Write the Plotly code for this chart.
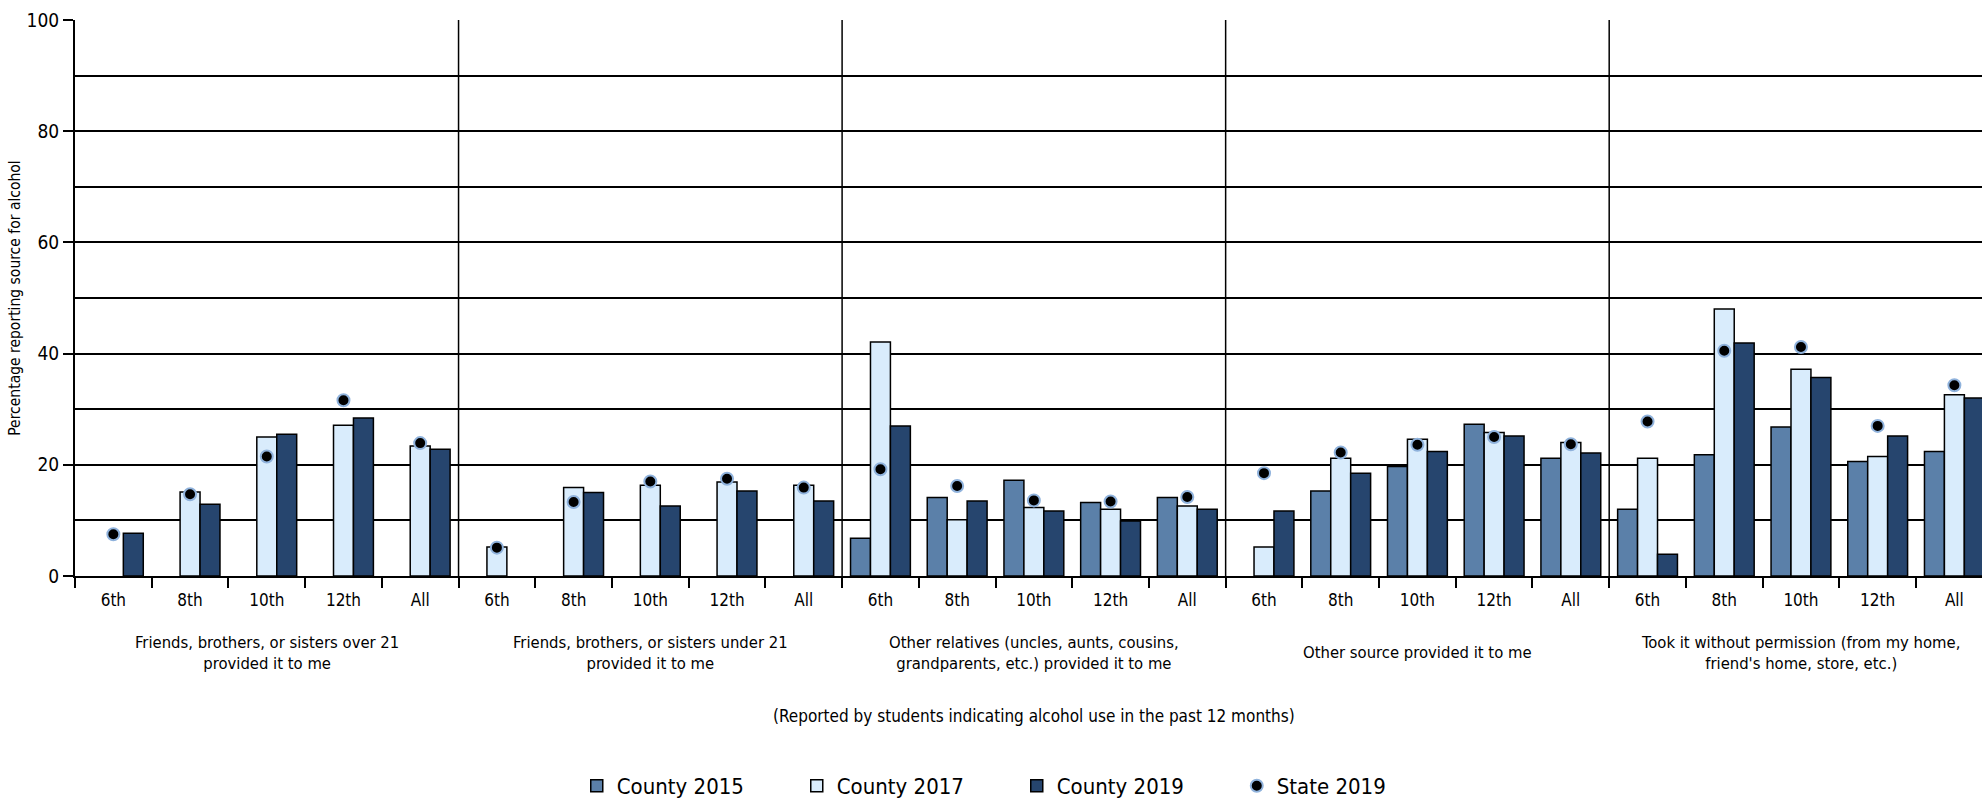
import plotly.graph_objects as go

# ---------------- data ----------------
grades = ["6th", "8th", "10th", "12th", "All"]
sources = [
    "Friends, brothers, or sisters over 21<br>provided it to me",
    "Friends, brothers, or sisters under 21<br>provided it to me",
    "Other relatives (uncles, aunts, cousins,<br>grandparents, etc.) provided it to me",
    "Other source provided it to me",
    "Took it without permission (from my home,<br>friend's home, store, etc.)",
]
# values in order: source 1 (6th..All), source 2 (6th..All), ...
county_2015 = [None, None, None, None, None,
               None, None, None, None, None,
               6.8, 14.1, 17.2, 13.2, 14.1,
               None, 15.3, 19.7, 27.3, 21.2,
               12.0, 21.8, 26.8, 20.6, 22.4]
county_2017 = [None, 15.1, 25.0, 27.1, 23.4,
               5.2, 15.9, 16.3, 16.9, 16.3,
               42.1, 10.1, 12.3, 12.0, 12.6,
               5.2, 21.2, 24.6, 25.8, 24.0,
               21.2, 48.0, 37.2, 21.5, 32.6]
county_2019 = [7.7, 12.9, 25.5, 28.4, 22.8,
               None, 15.0, 12.6, 15.3, 13.5,
               27.0, 13.5, 11.7, 9.9, 12.0,
               11.7, 18.5, 22.4, 25.2, 22.1,
               3.9, 41.9, 35.7, 25.2, 32.0]
state_2019 = [7.5, 14.7, 21.5, 31.6, 23.9,
              5.1, 13.3, 17.0, 17.5, 15.9,
              19.2, 16.2, 13.6, 13.4, 14.2,
              18.5, 22.2, 23.6, 25.0, 23.7,
              27.8, 40.5, 41.2, 27.0, 34.3]
series_names = ["County 2015", "County 2017", "County 2019"]
state_name = "State 2019"
x_title = "(Reported by students indicating alcohol use in the past 12 months)"
y_title = "Percentage reporting source for alcohol"

# ---------------- styling ----------------
FONT = "Liberation Sans Narrow, Arial Narrow, DejaVu Sans Condensed, sans-serif"
colors = ["#5b80a9", "#d9ecfc", "#26456e"]

n_g = len(grades)
n_s = len(sources)
xpos = [s * n_g + g + 0.5 for s in range(n_s) for g in range(n_g)]
xlabels = [grades[g] for s in range(n_s) for g in range(n_g)]

fig = go.Figure()
for name, vals, col in zip(series_names, [county_2015, county_2017, county_2019], colors):
    fig.add_trace(go.Bar(
        x=xpos, y=vals, name=name,
        marker=dict(color=col, line=dict(color="black", width=1.5)),
    ))
fig.add_trace(go.Scatter(
    x=xpos, y=state_2019, name=state_name, mode="markers",
    marker=dict(color="black", size=12, line=dict(color="#8fb2dc", width=2)),
))

shapes = []
for s in range(1, n_s):
    shapes.append(dict(type="line", xref="x", yref="paper", x0=s * n_g, x1=s * n_g,
                       y0=0, y1=1, line=dict(color="black", width=1.5), layer="above"))

annotations = []
for s, lab in enumerate(sources):
    annotations.append(dict(text=lab, xref="x", yref="paper", x=s * n_g + n_g / 2,
                            y=-0.138, xanchor="center", yanchor="middle", showarrow=False,
                            font=dict(family=FONT, size=16.5, color="black")))
annotations.append(dict(text=x_title, xref="x", yref="paper", x=n_s * n_g / 2, y=-0.251,
                        xanchor="center", yanchor="middle", showarrow=False,
                        font=dict(family=FONT, size=17, color="black")))

fig.update_layout(
    width=1982, height=802,
    margin=dict(l=75, r=0, t=20, b=226),
    plot_bgcolor="white", paper_bgcolor="white",
    barmode="group", bargap=0.22, bargroupgap=0,
    font=dict(family=FONT, color="black"),
    shapes=shapes, annotations=annotations,
    legend=dict(orientation="h", xref="container", yref="container", x=0.513, y=0.02,
                xanchor="center", yanchor="middle", font=dict(family=FONT, size=22),
                entrywidth=175, entrywidthmode="pixels"),
)
fig.update_xaxes(
    range=[0, 24.86], tickmode="array", tickvals=xpos, ticktext=xlabels,
    ticks="", tickfont=dict(family=FONT, size=17), ticklabelstandoff=8,
    showgrid=False, zeroline=False,
    showline=True, linecolor="black", linewidth=2,
    minor=dict(tickmode="linear", tick0=0, dtick=1, ticks="outside", ticklen=10,
               tickwidth=1.5, tickcolor="black", showgrid=False),
)
fig.update_yaxes(
    range=[0, 100], dtick=20, ticks="outside", ticklen=10, tickwidth=1.5, tickcolor="black",
    tickfont=dict(family=FONT, size=19),
    showgrid=True, gridcolor="black", gridwidth=1.5,
    minor=dict(dtick=10, showgrid=True, gridcolor="black", gridwidth=1.5),
    showline=True, linecolor="black", linewidth=2, zeroline=False,
    title=dict(text=y_title, font=dict(family=FONT, size=15.5), standoff=2),
)

fig.write_html("out.html", config={"displayModeBar": False},
               post_script="document.body.style.margin='0';document.body.style.overflow='hidden';")
